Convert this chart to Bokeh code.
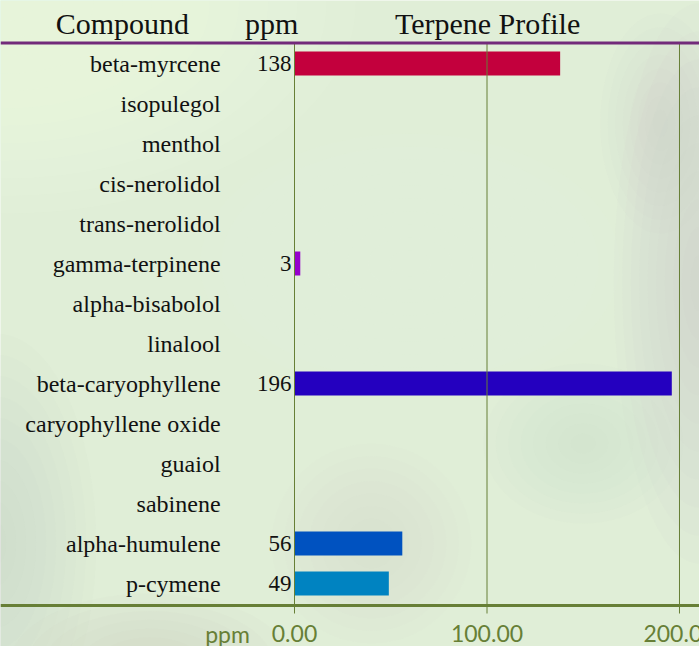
from bokeh.plotting import figure
from bokeh.models import Range1d, Span, ColumnDataSource
from bokeh.core.properties import value
from bokeh.embed import file_html
from bokeh.resources import INLINE

# ---- data ----
compounds = ["beta-myrcene", "isopulegol", "menthol", "cis-nerolidol", "trans-nerolidol",
             "gamma-terpinene", "alpha-bisabolol", "linalool", "beta-caryophyllene",
             "caryophyllene oxide", "guaiol", "sabinene", "alpha-humulene", "p-cymene"]
ppm = [138, 0, 0, 0, 0, 3, 0, 0, 196, 0, 0, 0, 56, 49]
bar_colors = ["#c3003d", "#c3003d", "#c3003d", "#c3003d", "#c3003d", "#9500cc", "#9500cc",
              "#2400bf", "#2400bf", "#2400bf", "#0052c0", "#0052c0", "#0052c0", "#0083c1"]
x_ticks = [0, 100, 200]
x_tick_labels = ["%.2f" % t for t in x_ticks]
headers = ["Compound", "ppm", "Terpene Profile"]
axis_unit = "ppm"

rows = list(range(len(compounds)))
SERIF = value("Liberation Serif")
SANS = value("Lato")
OLIVE = "#677f36"

p = figure(width=699, height=646, output_backend="svg", toolbar_location=None,
           x_range=Range1d(-152.73, 210.39), y_range=Range1d(14.575, -1.575),
           min_border=0, min_border_left=0, min_border_right=0,
           min_border_top=0, min_border_bottom=0,
           x_axis_location=None, y_axis_location=None)
p.grid.visible = False
p.outline_line_color = None
p.background_fill_color = "#e0eed7"
p.border_fill_color = "#e0eed7"

# soft background blobs (styling only)
def blob(x, y, w, h, color, n=10, a=0.07):
    for k in range(n):
        f = 1 - k / n
        p.ellipse(x=[x], y=[y], width=[w * f], height=[h * f], width_units="screen",
                  height_units="screen", fill_color=color, fill_alpha=a, line_color=None)

blob(-150, -1.5, 700, 420, "#f1fde9", n=12, a=0.08)
blob(60, 5.0, 420, 260, "#eaf8e2", n=10, a=0.05)
blob(210, 5.5, 170, 560, "#c8cec6", n=10, a=0.08)
blob(190, 1.5, 120, 220, "#cdd4ca", n=8, a=0.06)
blob(150, 9.5, 200, 160, "#cdd4ca", n=8, a=0.05)
blob(-155, 12.0, 200, 420, "#c9d0c6", n=10, a=0.07)
blob(-75, 15.0, 280, 140, "#c6cdc3", n=8, a=0.08)
blob(40, 12.0, 200, 200, "#ccd6c8", n=8, a=0.04)

src = ColumnDataSource(dict(y=rows, name=compounds, v=ppm, c=bar_colors,
                            lab=[str(v) if v else "" for v in ppm]))

# bars
p.hbar(y="y", left=0, right="v", height=0.6, fill_color="c", line_color=None, source=src)

# gridlines over bars, extending to tick marks
p.segment(x0=x_ticks, x1=x_ticks, y0=[-0.51] * len(x_ticks), y1=[13.75] * len(x_ticks),
          line_color=OLIVE, line_width=1)

# header line and axis line
p.add_layout(Span(location=-0.51, dimension="width", line_color="#722a7a", line_width=3))
p.add_layout(Span(location=13.55, dimension="width", line_color=OLIVE, line_width=3))

# compound names and values
p.text(x=-38.4, y="y", text="name", source=src, text_font=SERIF, text_font_size="24px",
       text_align="right", text_baseline="middle", text_color="#111111")
p.text(x=-1.6, y="y", text="lab", source=src, text_font=SERIF, text_font_size="23px",
       text_align="right", text_baseline="middle", text_color="#111111")

# headers
p.text(x=[-89.4, -11.9, 100.3], y=[-1.0] * 3, text=headers, text_font=SERIF,
       text_font_size="30px", text_align="center", text_baseline="middle",
       text_color="#111111")

# tick labels
p.text(x=x_ticks, y=[14.26] * len(x_ticks), text=x_tick_labels, text_font=SANS,
       text_font_size="23px", text_align="center", text_baseline="middle",
       text_color=OLIVE)
p.text(x=[-34.8], y=[14.26], text=[axis_unit], text_font=SANS, text_font_size="23px",
       text_align="center", text_baseline="middle", text_color=OLIVE)

open("out.html", "w").write(file_html(p, INLINE))
